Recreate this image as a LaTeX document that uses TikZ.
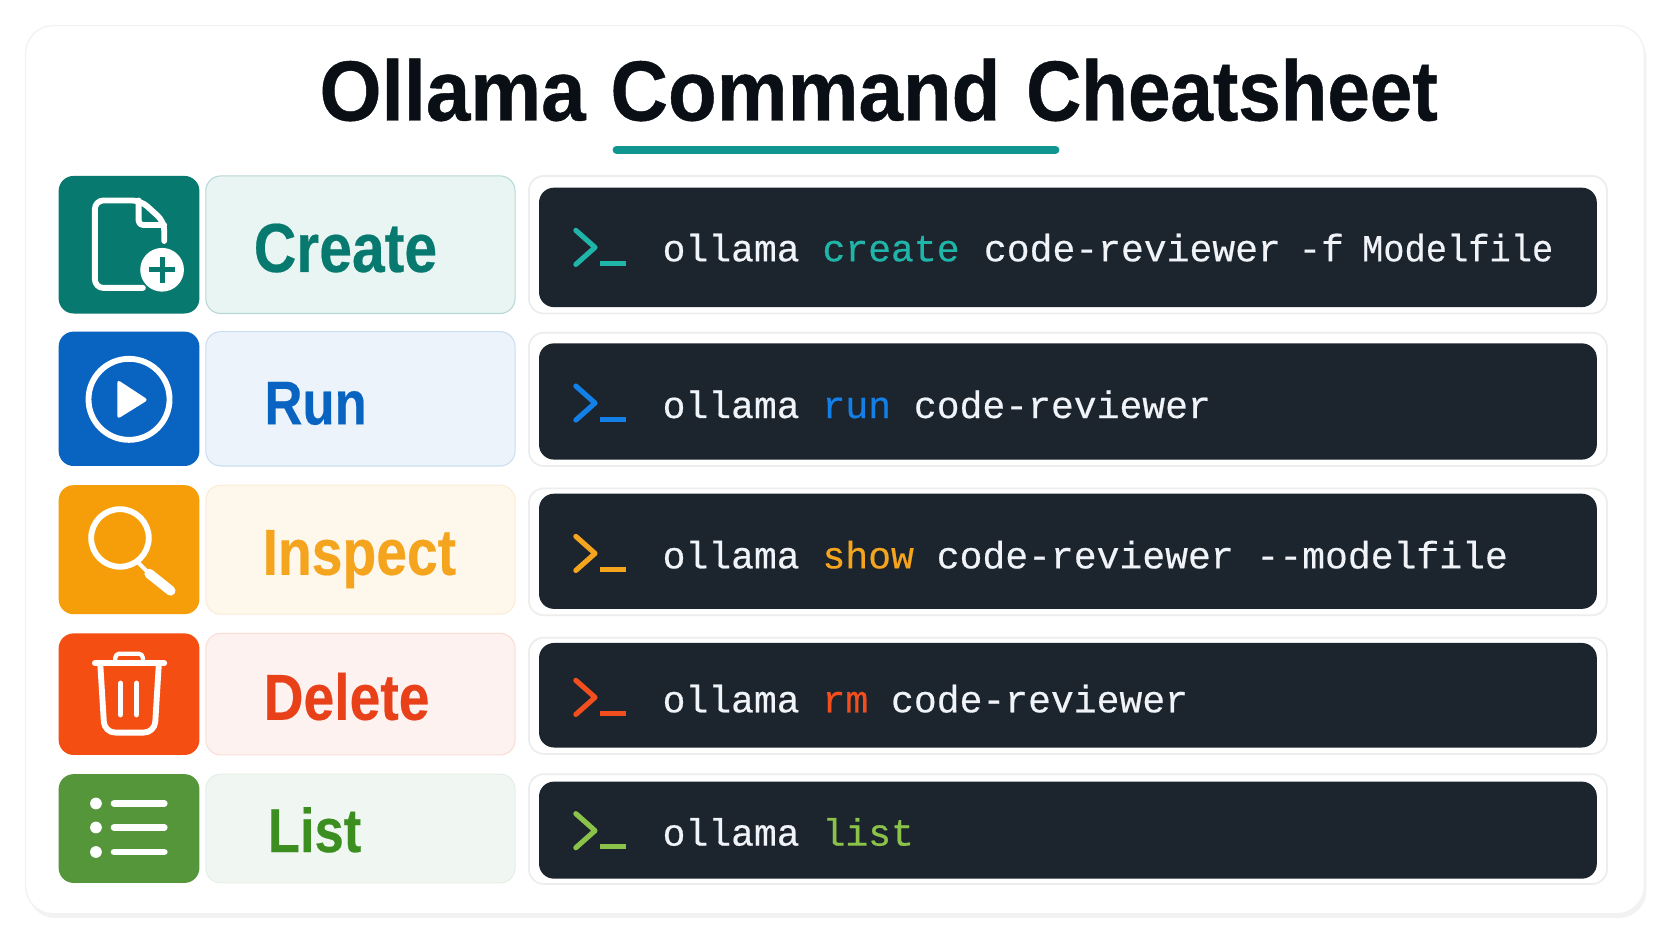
\documentclass[tikz,border=0pt]{standalone}
\usepackage{fontspec}
\usepackage{tikz}
\usetikzlibrary{positioning,shadows}
\newfontfamily\titlefont[FakeStretch=0.935,FakeBold=0.5]{Liberation Sans}
\newfontfamily\titlenarrow[FakeStretch=0.895,FakeBold=0.5]{Liberation Sans}
\newfontfamily\labelfont[FakeStretch=0.85,FakeBold=0.3]{Liberation Sans}
\newfontfamily\cmdfont[FakeBold=0.45]{Liberation Mono}

\definecolor{inktitle}{HTML}{0A0F16}
\definecolor{rule}{HTML}{0F9690}
\definecolor{darkcmd}{HTML}{1C252E}
\definecolor{cmdwhite}{HTML}{F0F4F8}
\definecolor{tealicon}{HTML}{07796F}
\definecolor{tealback}{HTML}{E9F5F3}
\definecolor{tealedge}{HTML}{B8D8D6}
\definecolor{tealkey}{HTML}{1FB5A8}
\definecolor{blueicon}{HTML}{0863C1}
\definecolor{blueback}{HTML}{EDF3FB}
\definecolor{blueedge}{HTML}{CBDDF1}
\definecolor{bluekey}{HTML}{1380E8}
\definecolor{orangeicon}{HTML}{F59E0A}
\definecolor{orangeback}{HTML}{FEF7EC}
\definecolor{orangeedge}{HTML}{FBECD5}
\definecolor{orangekey}{HTML}{F5A41D}
\definecolor{redicon}{HTML}{F44E12}
\definecolor{redback}{HTML}{FEF2F0}
\definecolor{rededge}{HTML}{FBDDD6}
\definecolor{redkey}{HTML}{F24E1E}
\definecolor{redname}{HTML}{E8411A}
\definecolor{greenicon}{HTML}{55963B}
\definecolor{greenback}{HTML}{F0F7F2}
\definecolor{greenedge}{HTML}{E6EFE6}
\definecolor{greenkey}{HTML}{8BC34A}
\definecolor{greenname}{HTML}{3B8E1F}

\tikzset{
  iconbox/.style={rectangle,rounded corners=7pt,minimum width=66pt,inner sep=0pt,outer sep=0pt},
  labelbox/.style={rectangle,rounded corners=7pt,minimum width=145pt,inner sep=0pt,outer sep=0pt,line width=0.5pt},
  outerbox/.style={rectangle,rounded corners=7pt,minimum width=505.5pt,inner sep=0pt,outer sep=0pt,draw=black!7,fill=white,line width=0.8pt},
  cmdbox/.style={rectangle,rounded corners=7pt,minimum width=496pt,inner sep=0pt,outer sep=0pt,fill=darkcmd},
  labeltext/.style n args={2}{anchor=base,inner sep=0pt,text=#1,font=\labelfont\bfseries\fontsize{#2}{#2}\selectfont},
  cmdtext/.style={anchor=base west,inner sep=0pt,text=cmdwhite,font=\cmdfont\fontsize{17.85pt}{17.85pt}\selectfont},
  iconline/.style={draw=white,line width=2.75pt,line cap=round,line join=round},
  promptline/.style={line width=2.4pt,line cap=round,line join=round}
}

% prompt sign: mid height of the chevron, colour
\newcommand{\promptsign}[2]{%
  \draw[promptline,#2] (540,#1-16) -- (558,#1) -- (540,#1+16);
  \draw[line width=2.4pt,#2] (563,#1+15) -- (587,#1+15);
}

\begin{document}
\begin{tikzpicture}[x=0.5pt,y=-0.5pt]
    \useasboundingbox (0,0) rectangle (1568,882.4);
    \fill[white] (0,0) rectangle (1568,882.4);
    \node[rectangle,rounded corners=13pt,minimum width=759pt,minimum height=416.5pt,inner sep=0pt,
      draw=black!5,fill=white,line width=0.6pt,
      drop shadow={opacity=0.10,shadow xshift=1pt,shadow yshift=-2pt}] (card) at (783,440.5) {};

    \node[anchor=base,inner sep=0pt,text=inktitle,font=\titlefont\bfseries\fontsize{40}{48}\selectfont] (title) at (824,113) {Ollama\hspace{1.3pt} Command\hspace{1.7pt} {\titlenarrow\bfseries Cheatsheet}};
    \coordinate (ruleleft) at (578,140.5);
    \coordinate (ruleright) at (990,140.5);
    \draw[rule,line width=3.5pt,line cap=round] (ruleleft) -- (ruleright);

    % row boxes
    \node[iconbox,fill=tealicon,minimum height=64.5pt] (createicon) at (121,229.5) {};
    \node[iconbox,fill=blueicon,minimum height=63pt,below=8.5pt of createicon] (runicon) {};
    \node[iconbox,fill=orangeicon,minimum height=60.5pt,below=9pt of runicon] (inspecticon) {};
    \node[iconbox,fill=redicon,minimum height=57pt,below=9pt of inspecticon] (deleteicon) {};
    \node[iconbox,fill=greenicon,minimum height=51pt,below=9pt of deleteicon] (listicon) {};

    \node[labelbox,draw=tealedge,fill=tealback,minimum height=64.5pt,right=3pt of createicon] (createlabel) {};
    \node[labelbox,draw=blueedge,fill=blueback,minimum height=63pt,right=3pt of runicon] (runlabel) {};
    \node[labelbox,draw=orangeedge,fill=orangeback,minimum height=60.5pt,right=3pt of inspecticon] (inspectlabel) {};
    \node[labelbox,draw=rededge,fill=redback,minimum height=57pt,right=3pt of deleteicon] (deletelabel) {};
    \node[labelbox,draw=greenedge,fill=greenback,minimum height=51pt,right=3pt of listicon] (listlabel) {};

    \node[outerbox,minimum height=64.5pt,right=6.5pt of createlabel] (createouter) {};
    \node[outerbox,minimum height=62.5pt,right=6.5pt of runlabel,yshift=-0.25pt] (runouter) {};
    \node[outerbox,minimum height=59.5pt,right=6.5pt of inspectlabel,yshift=-1pt] (inspectouter) {};
    \node[outerbox,minimum height=54.5pt,right=6.5pt of deletelabel,yshift=-0.75pt] (deleteouter) {};
    \node[outerbox,minimum height=51.5pt,right=6.5pt of listlabel,yshift=-0.25pt] (listouter) {};

    \node[cmdbox,minimum height=56pt,yshift=-1.25pt] (createcmd) at (createouter) {};
    \node[cmdbox,minimum height=54.5pt,yshift=-1pt] (runcmd) at (runouter) {};
    \node[cmdbox,minimum height=54pt,yshift=0.25pt] (inspectcmd) at (inspectouter) {};
    \node[cmdbox,minimum height=49pt,yshift=0.25pt] (deletecmd) at (deleteouter) {};
    \node[cmdbox,minimum height=45.5pt,yshift=-0.5pt] (listcmd) at (listouter) {};

    % row titles
    \node[labeltext={tealicon}{32.5pt}] (createname) at (324,255) {Create};
    \node[labeltext={blueicon}{29pt}] (runname) at (296,398) {Run};
    \node[labeltext={orangekey}{30.5pt}] (inspectname) at (337,539) {Inspect};
    \node[labeltext={redname}{30.5pt}] (deletename) at (325,675) {Delete};
    \node[labeltext={greenname}{29pt}] (listname) at (295,799) {List};

    % commands
    \promptsign{232}{tealkey}
    \promptsign{378}{bluekey}
    \promptsign{519}{orangekey}
    \promptsign{654}{redkey}
    \promptsign{779}{greenkey}
    \node[cmdtext] (createtext) at (621,245) {ollama \textcolor{tealkey}{create}\hspace{0.7pt} code-reviewer\hspace{-2.5pt} -f\hspace{-2.3pt} \scalebox{0.93}[1]{Modelfile}};
    \node[cmdtext] (runtext) at (621,392) {ollama \textcolor{bluekey}{run} code-reviewer};
    \node[cmdtext] (inspecttext) at (621,533) {ollama \textcolor{orangekey}{show} code-reviewer --modelfile};
    \node[cmdtext] (deletetext) at (621,668) {ollama \textcolor{redkey}{rm} code-reviewer};
    \node[cmdtext] (listtext) at (621,793) {ollama \textcolor{greenkey}{list}};

    % file icon
    \draw[iconline,rounded corners=4pt] (154,226) -- (154,208) -- (132,188) -- (89,188) -- (89,270) -- (134,270);
    \draw[iconline,rounded corners=2pt] (130,188) -- (130,211) -- (154,211);
    \node[circle,fill=white,minimum size=20.5pt,inner sep=0pt] (plusdisc) at (152,253) {};
    \draw[tealicon,line width=2.3pt] (140,253) -- (164,253);
    \draw[tealicon,line width=2.3pt] (152,241) -- (152,265);

    % play icon
    \node[circle,iconline,minimum size=38pt,inner sep=0pt] (playring) at (121,374.5) {};
    \fill[white,rounded corners=1.5pt] (110,356) -- (110,393) -- (139,375) -- cycle;

    % magnifier icon
    \node[circle,iconline,minimum size=27pt,inner sep=0pt] (lens) at (112.5,504.5) {};
    \draw[white,line width=1.8pt] (lens) ++(15,21) -- (139,537);
    \draw[iconline,line width=4.6pt] (140,538) -- (160,554);

    % trash icon
    \draw[iconline] (89,622) -- (154,622);
    \draw[iconline,line width=2pt,rounded corners=2pt] (108,620) -- (108,613) -- (134,613) -- (134,620);
    \draw[iconline,rounded corners=5pt] (94,622) -- (98,687) -- (145,687) -- (149,622);
    \draw[iconline] (113,641) -- (113,670);
    \draw[iconline] (128,641) -- (128,670);

    % list icon
    \fill[white] (90,753.5) circle (5.5) (90,776) circle (5.5) (90,799) circle (5.5);
    \draw[iconline,line width=3.2pt] (107,753.5) -- (154,753.5);
    \draw[iconline,line width=3.2pt] (107,776) -- (154,776);
    \draw[iconline,line width=3.2pt] (107,799) -- (154,799);

  \end{tikzpicture}
\end{document}
